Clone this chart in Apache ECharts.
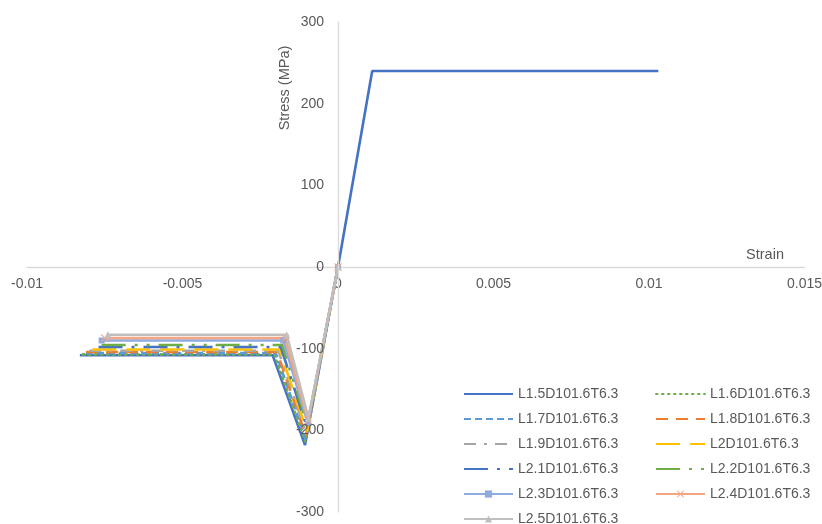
<!DOCTYPE html>
<html>
<head>
<meta charset="utf-8">
<script src="https://cdn.jsdelivr.net/npm/echarts@6/dist/echarts.min.js"></script>
<style>html,body{margin:0;padding:0;background:#fff}#c{width:822px;height:524px}</style>
</head>
<body>
<div id="c"></div>
<script>
// Series names
var seriesNames = ['L1.5D101.6T6.3','L1.6D101.6T6.3','L1.7D101.6T6.3','L1.8D101.6T6.3','L1.9D101.6T6.3','L2D101.6T6.3','L2.1D101.6T6.3','L2.2D101.6T6.3','L2.3D101.6T6.3','L2.4D101.6T6.3','L2.5D101.6T6.3'];
// Compression branch
var endStrain     = [-0.0083, -0.0082, -0.0081, -0.0081, -0.0080, -0.0079, -0.0077, -0.0076, -0.0076, -0.0075, -0.0074];
var plateauStress = [-108, -107, -105.5, -104, -102.5, -101, -98, -95.5, -90, -87, -83];
var cornerStrain  = [-0.0021, -0.00205, -0.0020, -0.00196, -0.00192, -0.00188, -0.00184, -0.0018, -0.00176, -0.0017, -0.00165];
var peakStrain    = [-0.00106, -0.00105, -0.00104, -0.00103, -0.00102, -0.00100, -0.00099, -0.00098, -0.00097, -0.00096, -0.00095];
var peakStress    = [-218, -214, -211, -207, -204, -201, -197, -194, -191, -188, -185];
// Tension branch (first series only)
var tensionStrain = [0, 0.0011, 0.0103];
var tensionStress = [0, 240, 240];
// Axis ticks
var xTicks = {min: -0.01, max: 0.015, interval: 0.005};
var yTicks = {min: -300, max: 300, interval: 100};

var colors = ['#4472C4','#70AD47','#5B9BD5','#ED7D31','#A5A5A5','#FFC000','#4472C4','#70AD47','#8FAADC','#F4A582','#BFBFBF'];
var dashes = ['solid',[1.5,4.5],[7,4],[12,8],[12,8,3,8],[24,10],[24,9,3,9],[24,9,3,9,3,9],'solid','solid','solid'];
var symbols = ['none','none','none','none','none','none','none','none','rect','path://M0,1L1,0L5,4L9,0L10,1L6,5L10,9L9,10L5,6L1,10L0,9L4,5Z','triangle'];
var symbolSizes = [0,0,0,0,0,0,0,0,6,8,7];

var W = 822, H = 524;
var gridL = 27, gridR = 17.5, gridT = 22, gridB = 12;
var plotW = W - gridL - gridR, plotH = H - gridT - gridB;
// offsets so the axes cross at zero
var yAxisOffset = -plotW * (0 - xTicks.min) / (xTicks.max - xTicks.min);
var xAxisOffset = -plotH * (0 - yTicks.min) / (yTicks.max - yTicks.min);

var series = seriesNames.map(function(n, i){
  var d = [[endStrain[i], plateauStress[i]], [cornerStrain[i], plateauStress[i]], [peakStrain[i], peakStress[i]], [0, 0]];
  if (i === 0) {
    for (var k = 1; k < tensionStrain.length; k++) d.push([tensionStrain[k], tensionStress[k]]);
  }
  return {
    name: n, type: 'line', data: d,
    symbol: symbols[i], symbolSize: symbolSizes[i],
    showSymbol: symbols[i] !== 'none',
    itemStyle: {color: colors[i]},
    lineStyle: {color: colors[i], width: 2.6, type: dashes[i], cap: i === 1 ? 'round' : 'butt'},
    animation: false, z: 2
  };
});

function legendData(idx){
  return idx.map(function(i){
    var o = {name: seriesNames[i]};
    if (symbols[i] === 'none') o.itemStyle = {color: 'rgba(0,0,0,0)', borderColor: 'rgba(0,0,0,0)', borderWidth: 0};
    return o;
  });
}

var textColor = '#595959';
var ff = '"Liberation Sans", Arial, sans-serif';
var legendCommon = {
  orient: 'vertical', top: 387, height: 200, padding: 0,
  itemWidth: 49, itemHeight: 9, itemGap: 11,
  textStyle: {color: textColor, fontSize: 14, lineHeight: 14, fontFamily: ff}
};
var chart = echarts.init(document.getElementById('c'), null, {renderer: 'canvas'});
chart.setOption({
  backgroundColor: '#fff',
  animation: false,
  textStyle: {fontFamily: ff},
  grid: {left: gridL, right: gridR, top: gridT, bottom: gridB, containLabel: false, outerBoundsMode: 'none'},
  xAxis: {
    type: 'value', min: xTicks.min, max: xTicks.max, interval: xTicks.interval,
    position: 'bottom', offset: xAxisOffset, z: 0,
    axisLine: {onZero: false, lineStyle: {color: '#D9D9D9', width: 1.3}},
    axisTick: {show: false}, splitLine: {show: false},
    axisLabel: {color: textColor, fontSize: 14, fontFamily: ff, margin: 10}
  },
  yAxis: {
    type: 'value', min: yTicks.min, max: yTicks.max, interval: yTicks.interval,
    position: 'left', offset: yAxisOffset, z: 3,
    axisLine: {onZero: false, lineStyle: {color: '#D9D9D9', width: 1.3}},
    axisTick: {show: false}, splitLine: {show: false},
    axisLabel: {color: textColor, fontSize: 14, fontFamily: ff, margin: 14}
  },
  legend: [
    Object.assign({left: 463, data: legendData([0,2,4,6,8,10])}, legendCommon),
    Object.assign({left: 655, data: legendData([1,3,5,7,9])}, legendCommon)
  ],
  graphic: [
    {type: 'text', x: 285, y: 88, rotation: Math.PI/2,
     style: {text: 'Stress (MPa)', fill: textColor, font: '14.5px ' + ff, align: 'center', verticalAlign: 'middle'}},
    {type: 'text', x: 765, y: 255,
     style: {text: 'Strain', fill: textColor, font: '14.5px ' + ff, align: 'center', verticalAlign: 'middle'}}
  ],
  series: series
});
</script>
</body>
</html>
